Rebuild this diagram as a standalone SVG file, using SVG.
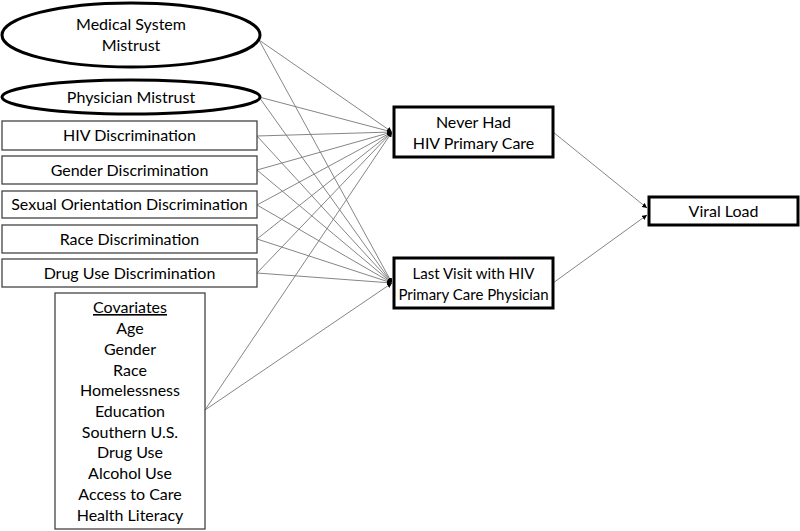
<svg xmlns="http://www.w3.org/2000/svg" width="800" height="531" viewBox="0 0 800 531">
<defs>
<marker id="ah" viewBox="0 0 10 10" refX="10" refY="5" markerWidth="5" markerHeight="5" orient="auto" markerUnits="userSpaceOnUse">
<path d="M0,0 L10,5 L0,10 z" fill="#000"/>
</marker>
</defs>
<style>
text{font-family:Lato,"Open Sans","Liberation Sans",sans-serif;font-size:16px;fill:#000;text-anchor:middle}
.ell{fill:#fff;stroke:#000;stroke-width:3}
.thin{fill:#fff;stroke:#444;stroke-width:1.3}
.thick{fill:#fff;stroke:#000;stroke-width:3}
.c line{stroke:#777;stroke-width:0.9;marker-end:url(#ah)}
</style>
<rect width="800" height="531" fill="#fff"/>
<g class="c" id="connectors">
<line x1="259" y1="40" x2="392" y2="132"/>
<line x1="259" y1="40" x2="392" y2="283"/>
<line x1="259" y1="97" x2="392" y2="132"/>
<line x1="259" y1="97" x2="392" y2="283"/>
<line x1="257" y1="136" x2="392" y2="132"/>
<line x1="257" y1="136" x2="392" y2="283"/>
<line x1="257" y1="170" x2="392" y2="132"/>
<line x1="257" y1="170" x2="392" y2="283"/>
<line x1="257" y1="205" x2="392" y2="132"/>
<line x1="257" y1="205" x2="392" y2="283"/>
<line x1="257" y1="239" x2="392" y2="132"/>
<line x1="257" y1="239" x2="392" y2="283"/>
<line x1="257" y1="273" x2="392" y2="132"/>
<line x1="257" y1="273" x2="392" y2="283"/>
<line x1="205" y1="410" x2="392" y2="132"/>
<line x1="205" y1="410" x2="392" y2="283"/>
<line x1="553" y1="132" x2="647" y2="208"/>
<line x1="553" y1="283" x2="647" y2="215"/>
</g>
<g id="medical-system-mistrust">
<ellipse class="ell" cx="131" cy="35" rx="129" ry="32"/>
<text x="131" y="30">Medical System</text>
<text x="131" y="51">Mistrust</text>
</g>
<g id="physician-mistrust">
<ellipse class="ell" cx="131" cy="97" rx="129" ry="17"/>
<text x="131" y="103">Physician Mistrust</text>
</g>
<g id="hiv-discrimination">
<rect class="thin" x="2" y="121" width="255" height="29"/>
<text x="129.5" y="141">HIV Discrimination</text>
</g>
<g id="gender-discrimination">
<rect class="thin" x="2" y="156" width="255" height="28"/>
<text x="129.5" y="176">Gender Discrimination</text>
</g>
<g id="sexual-orientation-discrimination">
<rect class="thin" x="2" y="191" width="255" height="27"/>
<text x="129.5" y="210">Sexual Orientation Discrimination</text>
</g>
<g id="race-discrimination">
<rect class="thin" x="2" y="225" width="255" height="28"/>
<text x="129.5" y="245">Race Discrimination</text>
</g>
<g id="drug-use-discrimination">
<rect class="thin" x="2" y="259" width="255" height="28"/>
<text x="129.5" y="279">Drug Use Discrimination</text>
</g>
<g id="covariates">
<rect class="thin" x="55" y="293" width="150" height="236"/>
<text x="130" y="313" text-decoration="underline">Covariates</text>
<text x="130" y="334">Age</text>
<text x="130" y="355">Gender</text>
<text x="130" y="376">Race</text>
<text x="130" y="396">Homelessness</text>
<text x="130" y="417">Education</text>
<text x="130" y="438">Southern U.S.</text>
<text x="130" y="458">Drug Use</text>
<text x="130" y="479">Alcohol Use</text>
<text x="130" y="500">Access to Care</text>
<text x="130" y="521">Health Literacy</text>
</g>
<g id="never-had-hiv-primary-care">
<rect class="thick" x="394" y="107" width="159" height="50"/>
<text x="473.5" y="128">Never Had</text>
<text x="473.5" y="149">HIV Primary Care</text>
</g>
<g id="last-visit">
<rect class="thick" x="394" y="258" width="159" height="50"/>
<text x="473.5" y="279" style="font-size:15px">Last Visit with HIV</text>
<text x="473.5" y="300" style="font-size:15px">Primary Care Physician</text>
</g>
<g id="viral-load">
<rect class="thick" x="649" y="197" width="149" height="28"/>
<text x="723.5" y="217">Viral Load</text>
</g>
</svg>
